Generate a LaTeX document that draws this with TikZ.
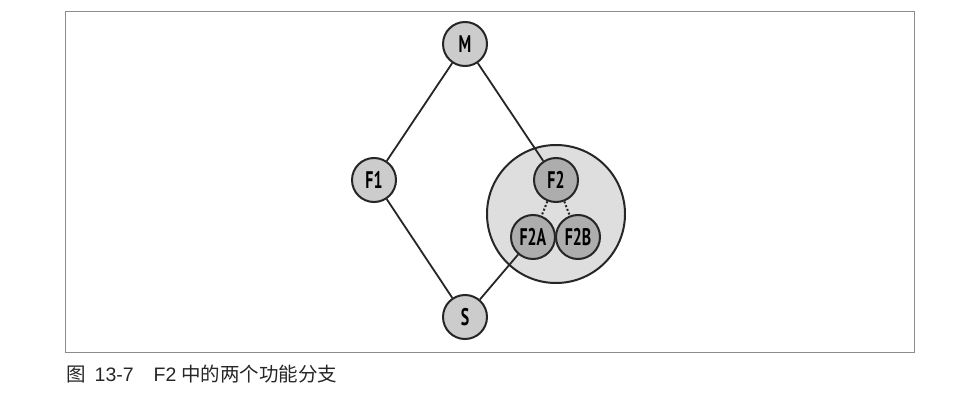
\documentclass[tikz,border=0pt]{standalone}
\usepackage{fontspec}
\setmainfont{Liberation Sans}
\newfontfamily\cjk{Noto Sans CJK SC}
\newfontfamily\labelfont[FakeStretch=0.66]{PT Sans}
\definecolor{nodegray}{gray}{0.80}
\definecolor{subgray}{gray}{0.68}
\definecolor{groupgray}{gray}{0.87}
\tikzset{
  feat/.style={circle, draw=black!85, line width=2pt, fill=nodegray, minimum size=44pt,
    inner sep=0pt, font=\labelfont\fontsize{24}{24}\selectfont\bfseries},
  subfeat/.style={feat, fill=subgray},
  link/.style={black!85, line width=1.8pt},
  sublink/.style={black!85, line width=2pt, dotted}
}
\begin{document}
\begin{tikzpicture}[x=1pt, y=-1pt]
    \useasboundingbox (0,0) rectangle (972,396);

    % frame
    \draw[black!45, line width=0.9pt] (65,11) rectangle (914,352);

    % feature group around F2
    \node[circle, draw=black!85, line width=2pt, fill=groupgray, minimum size=138pt, inner sep=0pt]
        (group) at (556,214) {};

    % branches
    \node[feat]    (M)   at (465,44)  {M};
    \node[feat]    (F1)  at (374,180) {F1};
    \node[subfeat] (F2)  at (556,180) {F2};
    \node[subfeat] (F2A) at (533,237) {F2A};
    \node[subfeat] (F2B) at (578,237) {F2B};
    \node[feat]    (S)   at (465,317) {S};

    % merges
    \draw[link] (M) -- (F1);
    \draw[link] (M) -- (F2);
    \draw[link] (F1) -- (S);
    \draw[link] (S) -- (F2A);
    \draw[sublink] (F2) -- (F2A);
    \draw[sublink] (F2) -- (F2B);

    % caption
    \node[anchor=west, inner sep=0pt, font=\fontsize{19.5}{19.5}\selectfont, black!85] (caption) at (66,374)
        {{\cjk 图}\hspace{9pt}13-7\hspace{20pt}F2\hspace{5pt}{\cjk 中的两个功能分支}};

\end{tikzpicture}
\end{document}
